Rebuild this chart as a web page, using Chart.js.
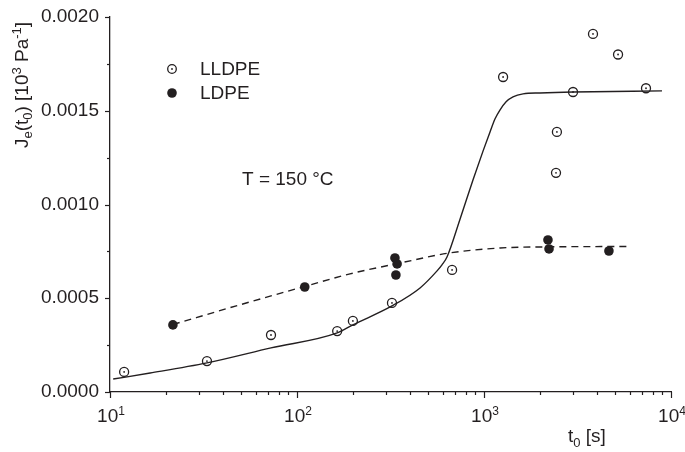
<!DOCTYPE html>
<html>
<head>
<meta charset="utf-8">
<script src="https://cdn.jsdelivr.net/npm/chart.js@4"></script>
<style>body{margin:0;background:#fff}</style>
</head>
<body>
<canvas id="myChart" width="685" height="452"></canvas>
<script>
// measured points (t0 in s, Je as printed on the axis)
const lldpeT = [11.9, 33, 72.6, 164, 199, 322, 675, 1265, 2427, 2454, 2993, 3827, 5210, 7350];
const lldpeJ = [0.000107, 0.000165, 0.000304, 0.000325, 0.000379, 0.000475, 0.000651, 0.00168, 0.001169, 0.001387, 0.0016, 0.00191, 0.0018, 0.00162];

const ldpeT = [21.7, 110, 334, 343, 338, 2198, 2227, 4656];
const ldpeJ = [0.000358, 0.00056, 0.000715, 0.000683, 0.000624, 0.000811, 0.000763, 0.000752];

// fit curves
const fitT = [10.4, 16.4, 33, 72.6, 164, 199, 322, 455, 561, 596, 634, 745, 873, 989, 1077, 1146, 1219, 1313, 1429, 1618, 1991, 2993, 8950];
const fitJ = [0.000069, 0.000101, 0.000155, 0.000235, 0.000315, 0.000358, 0.000459, 0.000555, 0.000646, 0.000678, 0.00072, 0.000923, 0.001131, 0.001286, 0.001387, 0.001457, 0.001505, 0.001548, 0.001574, 0.00159, 0.001595, 0.0016, 0.001606];

const dashT = [21.7, 49.5, 110, 192, 356, 658, 1219, 2198, 5820];
const dashJ = [0.00036, 0.000465, 0.000563, 0.00063, 0.000688, 0.000742, 0.000768, 0.000774, 0.000776];

const yTicks = [0, 0.0005, 0.001, 0.0015, 0.002];
const yTickLabels = ['0.0000', '0.0005', '0.0010', '0.0015', '0.0020'];
const xTicks = [10, 100, 1000, 10000];
const xTickExp = ['1', '2', '3', '4'];

const ink = '#231f20';
const font = '"Liberation Sans", Arial, sans-serif';

function pairs(xs, ys) {
    return xs.map(function(x, i){ return {x: x, y: ys[i]}; });
}

// draws a run of [text, size, shift] pieces from x along the baseline
function drawParts(ctx, parts, x, y) {
    parts.forEach(function(p){
        ctx.font = p[1] + 'px ' + font;
        ctx.fillText(p[0], x, y + p[2]);
        x += ctx.measureText(p[0]).width;
    });
}
function partsWidth(ctx, parts) {
    let w = 0;
    parts.forEach(function(p){
        ctx.font = p[1] + 'px ' + font;
        w += ctx.measureText(p[0]).width;
    });
    return w;
}

const decor = {
    id: 'decor',
    afterDraw: function(chart) {
        const ctx = chart.ctx;
        const xs = chart.scales.x, ys = chart.scales.y;
        const a = chart.chartArea;
        ctx.save();
        ctx.strokeStyle = ink; ctx.fillStyle = ink; ctx.lineWidth = 1.2;

        // y ticks, major + minor
        for (let v = 0; v <= 0.002 + 1e-9; v += 0.00025) {
            const py = Math.round(ys.getPixelForValue(v)) + 0.5;
            const len = (Math.round(v / 0.00025) % 2 === 0) ? 5 : 3;
            ctx.beginPath(); ctx.moveTo(a.left - len, py); ctx.lineTo(a.left, py); ctx.stroke();
        }
        // x ticks on log axis
        for (let d = 10; d <= 10000; d *= 10) {
            for (let m = 1; m <= 9; m++) {
                const v = d * m;
                if (v > 10000) break;
                const px = Math.round(xs.getPixelForValue(v)) + 0.5;
                const len = m === 1 ? 6 : 3;
                ctx.beginPath(); ctx.moveTo(px, a.bottom); ctx.lineTo(px, a.bottom + len); ctx.stroke();
            }
        }

        // y tick labels
        ctx.font = '19px ' + font;
        ctx.textAlign = 'right'; ctx.textBaseline = 'middle';
        yTicks.forEach(function(v, i){
            ctx.fillText(yTickLabels[i], a.left - 11, ys.getPixelForValue(v));
        });

        // x tick labels 10^n
        ctx.textAlign = 'left'; ctx.textBaseline = 'alphabetic';
        xTicks.forEach(function(v, i){
            const parts = [['10', 19, 0], [xTickExp[i], 12, -7]];
            const w = partsWidth(ctx, parts);
            drawParts(ctx, parts, xs.getPixelForValue(v) - w / 2 + 1, a.bottom + 30);
        });

        // axis titles
        drawParts(ctx, [['t', 19, 0], ['0', 13, 5], [' [s]', 19, 0]], 568, 442);

        const yTitle = [['J', 19, 0], ['e', 13, 4], ['(t', 19, 0], ['0', 13, 4], [') [10', 19, 0], ['3', 13, -7], [' Pa', 19, 0], ['-1', 13, -7], [']', 19, 0]];
        ctx.save();
        ctx.translate(28, 85);
        ctx.rotate(-Math.PI / 2);
        drawParts(ctx, yTitle, -partsWidth(ctx, yTitle) / 2, 0);
        ctx.restore();

        // legend
        ctx.font = '19px ' + font;
        ctx.lineWidth = 1.3;
        ctx.beginPath(); ctx.arc(172, 69, 4.3, 0, Math.PI * 2); ctx.stroke();
        ctx.beginPath(); ctx.arc(172, 69, 0.9, 0, Math.PI * 2); ctx.fill();
        ctx.fillText(chart.data.datasets[0].label, 200, 75);
        ctx.beginPath(); ctx.arc(172, 93, 4.8, 0, Math.PI * 2); ctx.fill();
        ctx.fillText(chart.data.datasets[2].label, 200, 99);

        ctx.fillText('T = 150 °C', 242, 185);
        ctx.restore();
    }
};

const ctx = document.getElementById('myChart');

const myChart = new Chart(ctx, {
    type: 'scatter',
    data: {
        datasets: [{
            label: 'LLDPE',
            data: pairs(lldpeT, lldpeJ),
            pointStyle: 'circle',
            pointRadius: 4.5,
            borderColor: ink,
            borderWidth: 1.3,
            backgroundColor: 'rgba(255,255,255,0)'
        }, {
            // centre dot of the LLDPE symbol
            label: 'LLDPE dot',
            data: pairs(lldpeT, lldpeJ),
            pointStyle: 'circle',
            pointRadius: 0.9,
            borderWidth: 0,
            backgroundColor: ink
        }, {
            label: 'LDPE',
            data: pairs(ldpeT, ldpeJ),
            pointStyle: 'circle',
            pointRadius: 4.8,
            backgroundColor: ink,
            borderWidth: 0
        }, {
            label: 'LLDPE fit',
            data: pairs(fitT, fitJ),
            showLine: true,
            pointRadius: 0,
            borderColor: ink,
            borderWidth: 1.4,
            cubicInterpolationMode: 'monotone'
        }, {
            label: 'LDPE fit',
            data: pairs(dashT, dashJ),
            showLine: true,
            pointRadius: 0,
            borderColor: ink,
            borderWidth: 1.4,
            borderDash: [7, 5],
            cubicInterpolationMode: 'monotone'
        }]
    },
    options: {
        responsive: false,
        animation: false,
        layout: { padding: { left: 0, right: 14, top: 17, bottom: 0 } },
        plugins: { legend: { display: false }, tooltip: { enabled: false } },
        scales: {
            x: {
                type: 'logarithmic', min: 10, max: 10000,
                grid: { display: false },
                border: { display: true, color: ink, width: 1.3 },
                ticks: { display: false },
                afterFit: function(s){ s.height = 60; }
            },
            y: {
                type: 'linear', min: 0, max: 0.002,
                grid: { display: false },
                border: { display: true, color: ink, width: 1.3 },
                ticks: { display: false },
                afterFit: function(s){ s.width = 110; }
            }
        }
    },
    plugins: [decor]
});
</script>
</body>
</html>
